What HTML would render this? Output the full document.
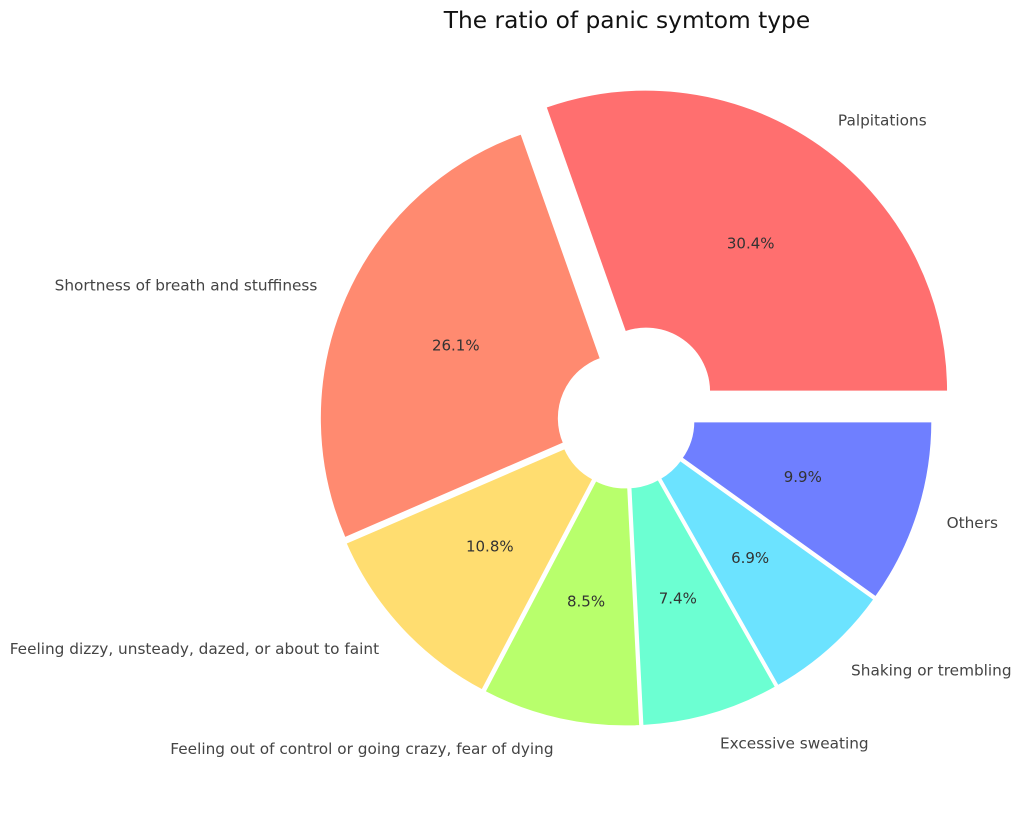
<!DOCTYPE html>
<html><head><meta charset="utf-8"><style>
body{margin:0;background:#fff;}
svg{display:block;font-family:"DejaVu Sans","Liberation Sans",sans-serif;}
</style></head><body>
<svg id="chart" width="1022" height="816">
<text x="627" y="28" text-anchor="middle" font-size="23.3" fill="#111">The ratio of panic symtom type</text>
<g id="slices"></g>
</svg>
<script>
const categories = ["Palpitations","Shortness of breath and stuffiness","Feeling dizzy, unsteady, dazed, or about to faint","Feeling out of control or going crazy, fear of dying","Excessive sweating","Shaking or trembling","Others"];
const values = [30.4,26.1,10.8,8.5,7.4,6.9,9.9];
const explodes = [0.115,0.015,0.015,0.015,0.015,0.015,0.015];
const colors = ["#FF6F6F","#FF8A70","#FFDD70","#B8FF6C","#6CFFD2","#6CE3FF","#6F7FFF"];
const cx=626, cy=420, R=302, r0=63;
const NS="http://www.w3.org/2000/svg";
const g=document.getElementById('slices');
const total=values.reduce((a,b)=>a+b,0);
let a0=0;
function pt(x,y,r,a){return [x+r*Math.cos(a), y-r*Math.sin(a)];}
values.forEach((v,i)=>{
  const a1=a0+v/total*2*Math.PI, am=(a0+a1)/2;
  const ex=explodes[i]*R;
  const ox=cx+ex*Math.cos(am), oy=cy-ex*Math.sin(am);
  const p1=pt(ox,oy,R,a0), p2=pt(ox,oy,R,a1), p3=pt(ox,oy,r0,a1), p4=pt(ox,oy,r0,a0);
  const large=(a1-a0)>Math.PI?1:0;
  const path=document.createElementNS(NS,'path');
  path.setAttribute('d',`M${p1[0]},${p1[1]} A${R},${R} 0 ${large} 0 ${p2[0]},${p2[1]} L${p3[0]},${p3[1]} A${r0},${r0} 0 ${large} 1 ${p4[0]},${p4[1]} Z`);
  path.setAttribute('fill',colors[i]);
  path.setAttribute('stroke','#fff');
  path.setAttribute('stroke-width','2');
  
  
  g.appendChild(path);
  const pp=pt(ox,oy,0.6*R,am);
  const t=document.createElementNS(NS,'text');
  t.setAttribute('x',pp[0]);t.setAttribute('y',pp[1]+5);
  t.setAttribute('text-anchor','middle');t.setAttribute('font-size','15');t.setAttribute('fill','#333');
  t.textContent=v.toFixed(1)+'%';
  
  
  g.appendChild(t);
  const lp=pt(ox,oy,1.1*R,am);
  const l=document.createElementNS(NS,'text');
  l.setAttribute('x',lp[0]);l.setAttribute('y',lp[1]+5);
  l.setAttribute('text-anchor',Math.cos(am)>=0?'start':'end');
  l.setAttribute('font-size','15.3');l.setAttribute('fill','#444');
  l.textContent=categories[i];
  
  
  g.appendChild(l);
  a0=a1;
});
</script>
</body></html>
